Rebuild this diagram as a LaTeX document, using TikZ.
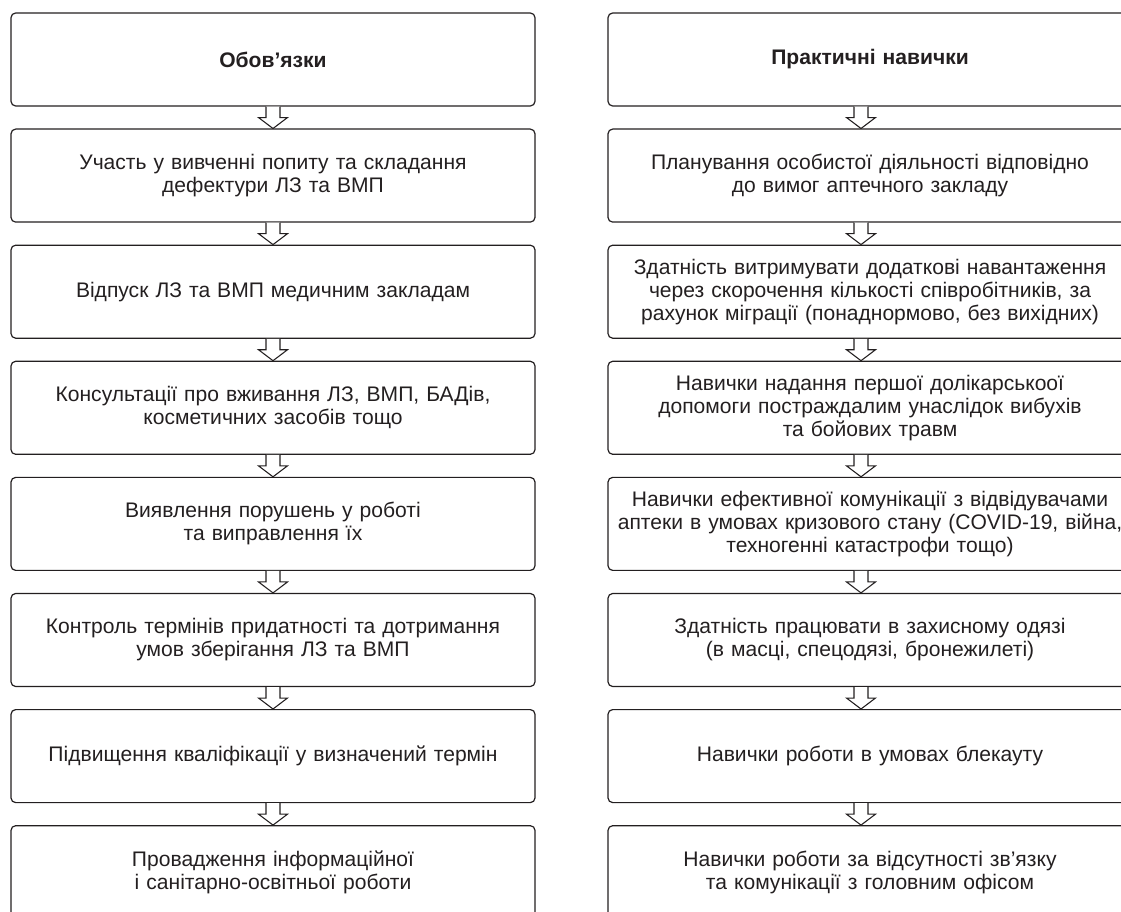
\documentclass[tikz,border=0pt]{standalone}
\usepackage{fontspec}
\setmainfont{Liberation Sans}
\usetikzlibrary{calc}
\definecolor{inkgray}{HTML}{231F20}
\tikzset{
  dutybox/.style={draw=inkgray, line width=0.9pt, rounded corners=3.5pt,
    minimum width=393pt, minimum height=69.75pt, inner sep=1.5pt,
    text width=390pt, align=center, text=inkgray,
    font=\fontsize{15.8}{17.3}\selectfont},
  arrowline/.style={draw=inkgray, line width=0.8pt, fill=white}
}
% hollow block arrow from box #1 down to box #2, shifted by #3
\newcommand\hollowarrow[3]{%
  \draw[arrowline] ($(#1.south)+(#3-7,0)$) -- ($(#1.south)!0.5!(#2.north)+(#3-7,0)$)
    -- ++(-7.5,0) -- ($(#2.north)+(#3,0)$) -- ($(#1.south)!0.5!(#2.north)+(#3+14.5,0)$)
    -- ++(-7.5,0) -- ($(#1.south)+(#3+7,0)$);}
\begin{document}
\begin{tikzpicture}[x=0.75pt, y=-0.75pt]
  \useasboundingbox (0,0) rectangle (1121,912);
  \clip (0,0) rectangle (1121,912);
  % left column
  \node[dutybox] (l1) at (273,59.5) {\textbf{Обов’язки}};
  \node[dutybox] (l2) at (273,175.6) {Участь у вивченні попиту та складання\\дефектури ЛЗ та ВМП};
  \node[dutybox] (l3) at (273,291.7) {Відпуск ЛЗ та ВМП медичним закладам};
  \node[dutybox] (l4) at (273,407.8) {Консультації про вживання ЛЗ, ВМП, БАДів,\\косметичних засобів тощо};
  \node[dutybox] (l5) at (273,523.9) {Виявлення порушень у роботі\\та виправлення їх};
  \node[dutybox] (l6) at (273,640.0) {Контроль термінів придатності та дотримання\\умов зберігання ЛЗ та ВМП};
  \node[dutybox] (l7) at (273,756.1) {Підвищення кваліфікації у визначений термін};
  \node[dutybox] (l8) at (273,872.2) {Провадження інформаційної\\і санітарно-освітньої роботи};
  % right column
  \node[dutybox] (r1) at (870,59.5) {\textbf{Практичні навички}};
  \node[dutybox] (r2) at (870,175.6) {Планування особистої діяльності відповідно\\до вимог аптечного закладу};
  \node[dutybox] (r3) at (870,291.7) {Здатність витримувати додаткові навантаження\\через скорочення кількості співробітників, за\\рахунок міграції (понаднормово, без вихідних)};
  \node[dutybox] (r4) at (870,407.8) {Навички надання першої долікарськоої\\допомоги постраждалим унаслідок вибухів\\та бойових травм};
  \node[dutybox] (r5) at (870,523.9) {Навички ефективної комунікації з відвідувачами\\аптеки в умовах кризового стану (COVID-19, війна,\\техногенні катастрофи тощо)};
  \node[dutybox] (r6) at (870,640.0) {Здатність працювати в захисному одязі\\(в масці, спецодязі, бронежилеті)};
  \node[dutybox] (r7) at (870,756.1) {Навички роботи в умовах блекауту};
  \node[dutybox] (r8) at (870,872.2) {Навички роботи за відсутності зв’язку\\та комунікації з головним офісом};
  % arrows
  \foreach \i [evaluate=\i as \j using int(\i+1)] in {1,...,7} {
    \hollowarrow{l\i}{l\j}{0}
    \hollowarrow{r\i}{r\j}{-9}
  }
\end{tikzpicture}
\end{document}
